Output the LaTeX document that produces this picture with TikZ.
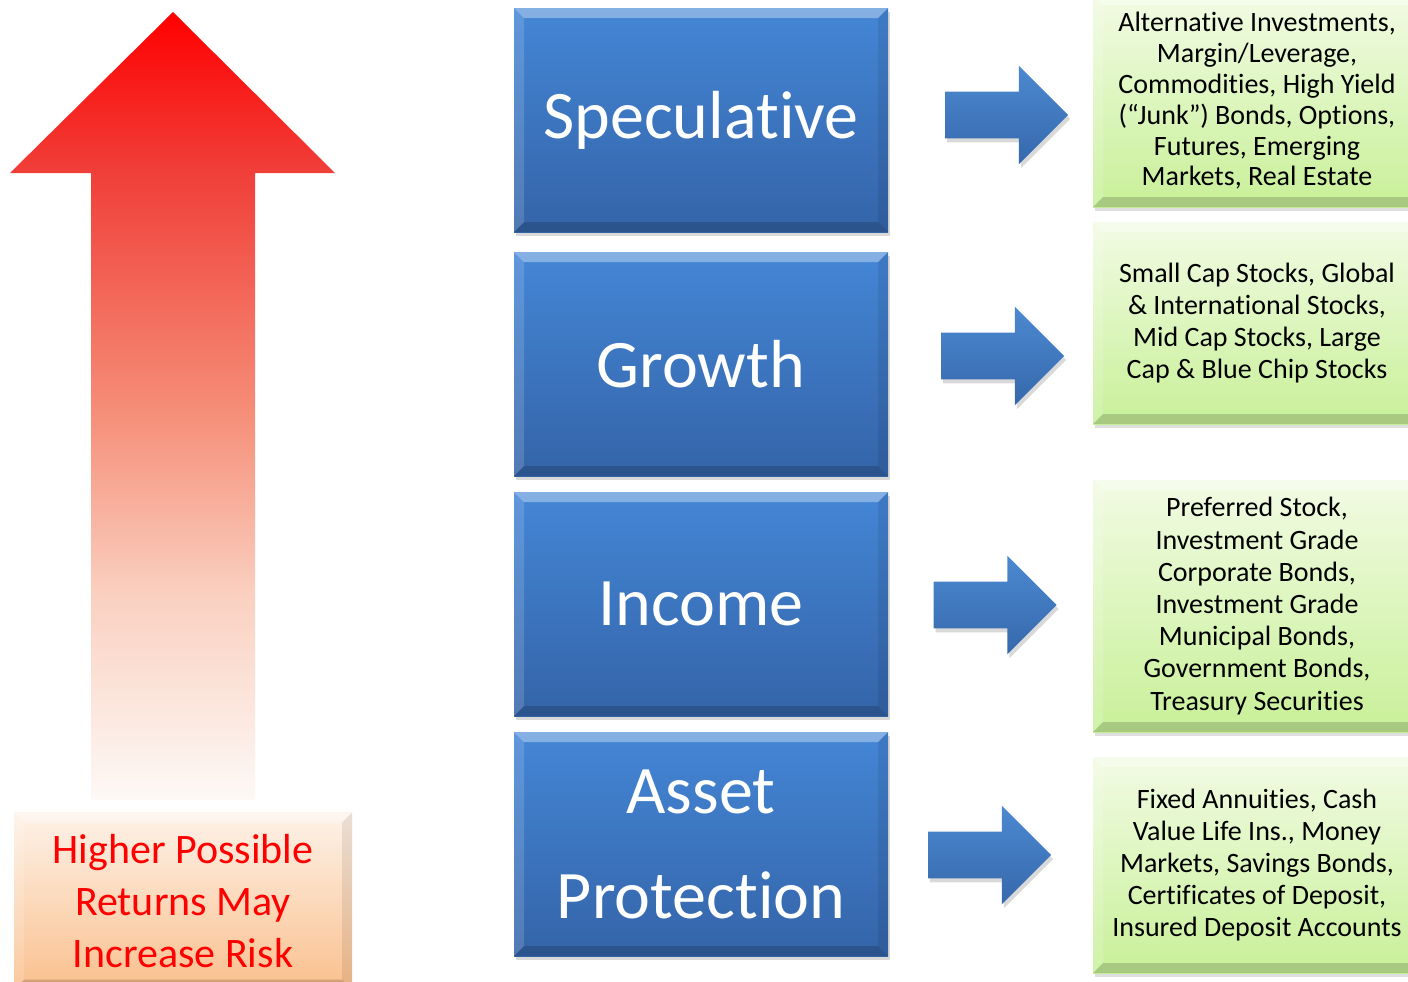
\documentclass[tikz,border=0pt]{standalone}
\usepackage{fontspec}
\setmainfont{Carlito}[Ligatures={NoCommon,NoContextual}, Contextuals=NoAlternate]
\usetikzlibrary{shapes,arrows,calc,shadows}
\definecolor{bluetop}{RGB}{68,134,214}
\definecolor{bluebot}{RGB}{52,100,168}
\definecolor{arrowtop}{RGB}{76,137,208}
\definecolor{arrowbot}{RGB}{54,104,172}
\definecolor{greentop}{RGB}{242,251,228}
\definecolor{greenbot}{RGB}{200,240,152}
\definecolor{peachtop}{RGB}{253,242,232}
\definecolor{peachbot}{RGB}{250,192,142}
\definecolor{riskwhite}{RGB}{253,249,246}
\definecolor{riskpeach}{RGB}{250,208,192}
\definecolor{risksalmon}{RGB}{245,140,118}
\definecolor{riskred}{RGB}{240,62,56}
\pgfdeclareverticalshading{riskshade}{100bp}{color(0bp)=(riskwhite); color(25bp)=(riskwhite); color(38bp)=(riskpeach); color(50bp)=(risksalmon); color(65bp)=(riskred); color(75bp)=(red); color(100bp)=(red)}
\tikzstyle{bevel} = [path picture={
    \path (path picture bounding box.north west) coordinate (bnw)
          (path picture bounding box.north east) coordinate (bne)
          (path picture bounding box.south east) coordinate (bse)
          (path picture bounding box.south west) coordinate (bsw);
    \fill[white, opacity=.35] (bnw) -- (bne) -- ([xshift=-5pt,yshift=-5pt]bne) -- ([xshift=5pt,yshift=-5pt]bnw) -- cycle;
    \fill[white, opacity=.15] (bnw) -- (bsw) -- ([xshift=5pt,yshift=5pt]bsw) -- ([xshift=5pt,yshift=-5pt]bnw) -- cycle;
    \fill[black, opacity=.16] (bsw) -- (bse) -- ([xshift=-5pt,yshift=5pt]bse) -- ([xshift=5pt,yshift=5pt]bsw) -- cycle;
    \fill[black, opacity=.08] (bne) -- (bse) -- ([xshift=-5pt,yshift=5pt]bse) -- ([xshift=-5pt,yshift=-5pt]bne) -- cycle;
}]
\tikzstyle{tier} = [rectangle, text=white, top color=bluetop, bottom color=bluebot, minimum width=187pt, minimum height=112pt, align=center, font=\fontsize{34}{52.5}\selectfont, bevel, drop shadow={opacity=.3, shadow xshift=1pt, shadow yshift=-2pt}]
\tikzstyle{choices} = [rectangle, top color=greentop, bottom color=greenbot, minimum width=164pt, align=center, font=\fontsize{14}{16.1}\selectfont, bevel, drop shadow={opacity=.25, shadow xshift=1pt, shadow yshift=-2pt}]
\tikzstyle{note} = [rectangle, text=red, top color=peachtop, bottom color=peachbot, minimum width=169pt, minimum height=88.5pt, align=center, font=\fontsize{21}{26}\selectfont, bevel]
\tikzstyle{blockarrow} = [single arrow, single arrow head extend=13pt, single arrow tip angle=90, minimum height=61.5pt, inner xsep=0pt, inner ysep=11.5pt, top color=arrowtop, bottom color=arrowbot, drop shadow={opacity=.3, shadow xshift=1pt, shadow yshift=-2pt}]

\begin{document}
\begin{tikzpicture}[x=0.5pt, y=-0.5pt, node distance=120pt]
        \useasboundingbox (0,0) rectangle (1408,981);
        \clip (0,0) rectangle (1408,981);
        % risk arrow on the left
        \shade[shading=riskshade] (173,12) -- (335,173) -- (255,173) -- (255,800) -- (91,800) -- (91,173) -- (10,173) -- cycle;
        \node[note] (risk) at (183,901) {Higher Possible\\Returns May\\Increase Risk};
        % the four levels
        \node[tier] (spec) at (701,120) {Speculative};
        \node[tier, below of=spec, node distance=122pt] (growth) {Growth};
        \node[tier, below of=growth] (income) {Income};
        \node[tier, below of=income] (asset) {Asset\\Protection};
        % what goes into each level
        \node[choices, minimum height=106pt, font=\fontsize{14}{15.4}\selectfont] (specx) at (1257,101) {Alternative Investments,\\Margin/Leverage,\\Commodities, High Yield\\(“Junk”) Bonds, Options,\\Futures, Emerging\\Markets, Real Estate};
        \node[choices, minimum height=101pt] (growthx) at (1257,323) {Small Cap Stocks, Global\\\& International Stocks,\\Mid Cap Stocks, Large\\Cap \& Blue Chip Stocks};
        \node[choices, minimum height=126pt] (incomex) at (1257,606) {Preferred Stock,\\Investment Grade\\Corporate Bonds,\\Investment Grade\\Municipal Bonds,\\Government Bonds,\\Treasury Securities};
        \node[choices, minimum height=108pt] (assetx) at (1257,865) {Fixed Annuities, Cash\\Value Life Ins., Money\\Markets, Savings Bonds,\\Certificates of Deposit,\\Insured Deposit Accounts};
        % arrows between them
        \node[blockarrow] (specarrow) at (995,115) {};
        \node[blockarrow] (growtharrow) at (991,356) {};
        \node[blockarrow] (incomearrow) at (983.5,605) {};
        \node[blockarrow] (assetarrow) at (978,855) {};
    \end{tikzpicture}
\end{document}
